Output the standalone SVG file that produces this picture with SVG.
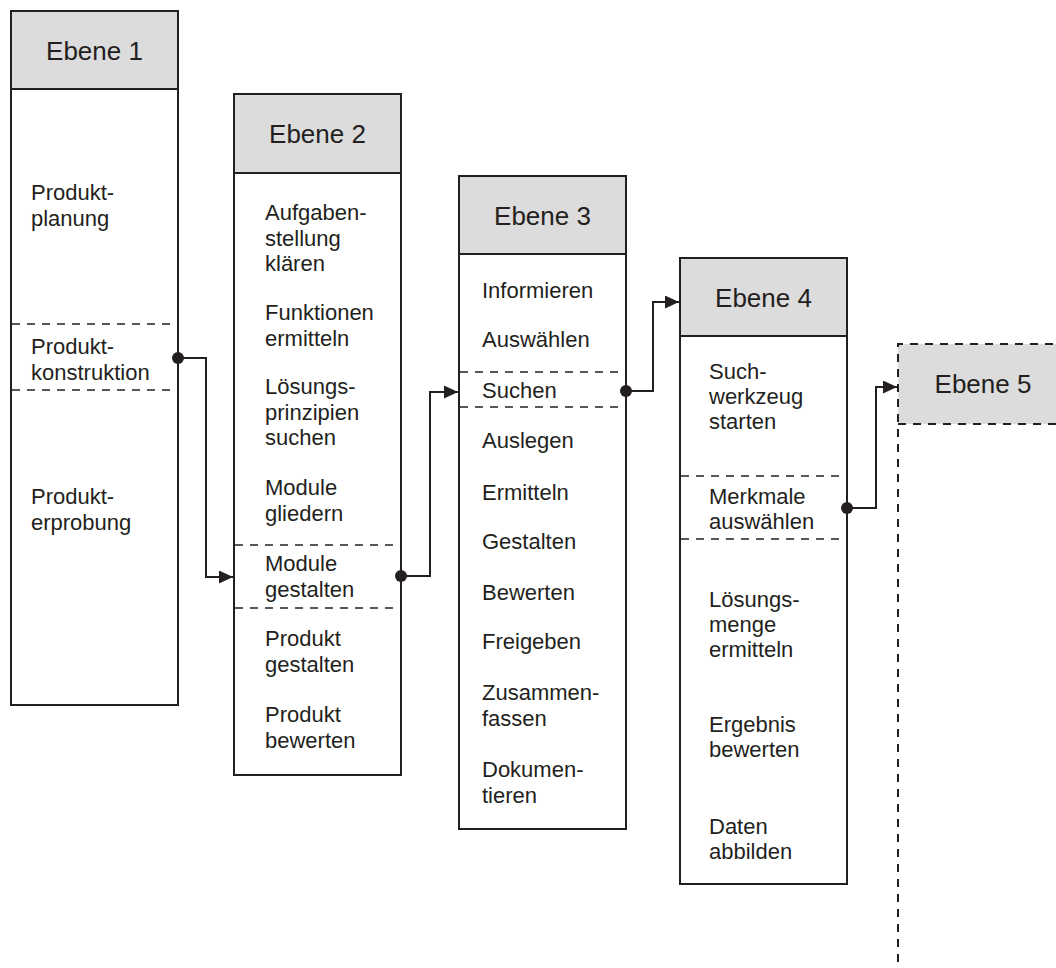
<svg xmlns="http://www.w3.org/2000/svg" width="1056" height="968" viewBox="0 0 1056 968">
  <style>
    .frame { fill: #ffffff; stroke: #231f20; stroke-width: 2; }
    .head { fill: #dcdcdc; stroke: #231f20; stroke-width: 2; }
    .sep { fill: none; stroke: #231f20; stroke-width: 1.6; stroke-dasharray: 8 7; }
    .dashframe { stroke: #231f20; stroke-width: 2; stroke-dasharray: 8 7; }
    .title { font-family: "Liberation Sans", Arial, sans-serif; font-size: 26px; fill: #231f20; text-anchor: middle; }
    .item { font-family: "Liberation Sans", Arial, sans-serif; font-size: 22px; fill: #231f20; }
    .link { fill: none; stroke: #231f20; stroke-width: 2; }
    .dot { fill: #231f20; }
  </style>
  <defs>
    <marker id="arrow" markerUnits="userSpaceOnUse" markerWidth="16" markerHeight="14" refX="14" refY="6.5" orient="auto">
      <path d="M0,0 L14,6.5 L0,13 Z" fill="#231f20"/>
    </marker>
  </defs>

  <rect width="1056" height="968" fill="#ffffff"/>

  <!-- Level 1 -->
  <g id="ebene1">
    <rect class="frame" x="11" y="11" width="167" height="694"/>
    <rect class="head" x="11" y="11" width="167" height="78"/>
    <text class="title" x="94.5" y="60">Ebene 1</text>
    <line class="sep" x1="12" y1="324" x2="177" y2="324"/>
    <line class="sep" x1="12" y1="390" x2="177" y2="390"/>
    <text class="item" x="31" y="200">Produkt-<tspan x="31" dy="25.5">planung</tspan></text>
    <text class="item" x="31" y="354">Produkt-<tspan x="31" dy="25.5">konstruktion</tspan></text>
    <text class="item" x="31" y="504">Produkt-<tspan x="31" dy="25.5">erprobung</tspan></text>
  </g>

  <!-- Level 2 -->
  <g id="ebene2">
    <rect class="frame" x="234" y="94" width="167" height="681"/>
    <rect class="head" x="234" y="94" width="167" height="79"/>
    <text class="title" x="317.5" y="143">Ebene 2</text>
    <line class="sep" x1="235" y1="545" x2="400" y2="545"/>
    <line class="sep" x1="235" y1="608" x2="400" y2="608"/>
    <text class="item" x="265" y="220">Aufgaben-<tspan x="265" dy="25.5">stellung</tspan><tspan x="265" dy="25.5">klären</tspan></text>
    <text class="item" x="265" y="320">Funktionen<tspan x="265" dy="25.5">ermitteln</tspan></text>
    <text class="item" x="265" y="394">Lösungs-<tspan x="265" dy="25.5">prinzipien</tspan><tspan x="265" dy="25.5">suchen</tspan></text>
    <text class="item" x="265" y="495">Module<tspan x="265" dy="25.5">gliedern</tspan></text>
    <text class="item" x="265" y="571">Module<tspan x="265" dy="25.5">gestalten</tspan></text>
    <text class="item" x="265" y="646">Produkt<tspan x="265" dy="25.5">gestalten</tspan></text>
    <text class="item" x="265" y="722">Produkt<tspan x="265" dy="25.5">bewerten</tspan></text>
  </g>

  <!-- Level 3 -->
  <g id="ebene3">
    <rect class="frame" x="459" y="176" width="167" height="653"/>
    <rect class="head" x="459" y="176" width="167" height="78"/>
    <text class="title" x="542.5" y="225">Ebene 3</text>
    <line class="sep" x1="460" y1="372" x2="625" y2="372"/>
    <line class="sep" x1="460" y1="407" x2="625" y2="407"/>
    <text class="item" x="482" y="298">Informieren</text>
    <text class="item" x="482" y="347">Auswählen</text>
    <text class="item" x="482" y="398">Suchen</text>
    <text class="item" x="482" y="448">Auslegen</text>
    <text class="item" x="482" y="500">Ermitteln</text>
    <text class="item" x="482" y="549">Gestalten</text>
    <text class="item" x="482" y="600">Bewerten</text>
    <text class="item" x="482" y="649">Freigeben</text>
    <text class="item" x="482" y="700">Zusammen-<tspan x="482" dy="25.5">fassen</tspan></text>
    <text class="item" x="482" y="777">Dokumen-<tspan x="482" dy="25.5">tieren</tspan></text>
  </g>

  <!-- Level 4 -->
  <g id="ebene4">
    <rect class="frame" x="680" y="258" width="167" height="626"/>
    <rect class="head" x="680" y="258" width="167" height="78"/>
    <text class="title" x="763.5" y="307">Ebene 4</text>
    <line class="sep" x1="681" y1="476" x2="846" y2="476"/>
    <line class="sep" x1="681" y1="539" x2="846" y2="539"/>
    <text class="item" x="709" y="379">Such-<tspan x="709" dy="25">werkzeug</tspan><tspan x="709" dy="25">starten</tspan></text>
    <text class="item" x="709" y="504">Merkmale<tspan x="709" dy="25">auswählen</tspan></text>
    <text class="item" x="709" y="607">Lösungs-<tspan x="709" dy="25">menge</tspan><tspan x="709" dy="25">ermitteln</tspan></text>
    <text class="item" x="709" y="732">Ergebnis<tspan x="709" dy="25">bewerten</tspan></text>
    <text class="item" x="709" y="834">Daten<tspan x="709" dy="25">abbilden</tspan></text>
  </g>

  <!-- Level 5 (continues beyond the page edge) -->
  <g id="ebene5">
    <rect x="898" y="344" width="170" height="80" fill="#dcdcdc"/>
    <path class="dashframe" fill="none" d="M1068,344 H898 V968 M898,424 H1068"/>
    <text class="title" x="983" y="393">Ebene 5</text>
  </g>

  <!-- Connectors -->
  <g id="connectors">
    <path class="link" d="M178,358 H206 V577 H233" marker-end="url(#arrow)"/>
    <path class="link" d="M401,576 H430 V392 H458" marker-end="url(#arrow)"/>
    <path class="link" d="M626,391 H653 V302 H679" marker-end="url(#arrow)"/>
    <path class="link" d="M847,508 H876 V387 H897" marker-end="url(#arrow)"/>
    <circle class="dot" cx="178" cy="358" r="6"/>
    <circle class="dot" cx="401" cy="576" r="6"/>
    <circle class="dot" cx="626" cy="391" r="6"/>
    <circle class="dot" cx="847" cy="508" r="6"/>
  </g>
</svg>
